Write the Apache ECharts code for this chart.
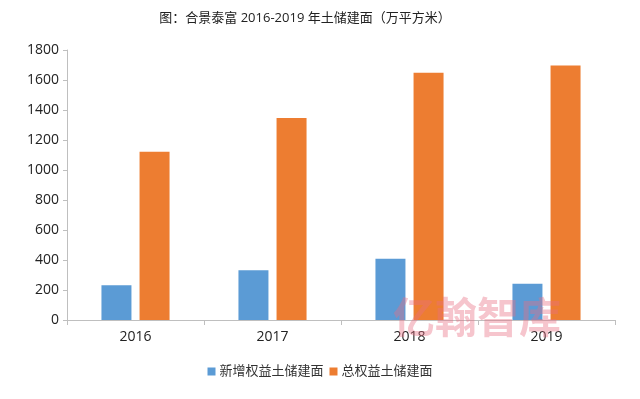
<!DOCTYPE html>
<html>
<head>
<meta charset="utf-8">
<script src="https://cdn.jsdelivr.net/npm/echarts@6/dist/echarts.min.js"></script>
<style>
  html, body { margin: 0; padding: 0; background: #fff; }
  #chart { width: 640px; height: 399px; }
</style>
</head>
<body>
<div id="chart"></div>
<script>
const years = ['2016', '2017', '2018', '2019'];
const newArea = [231, 331, 409, 242];
const totalArea = [1122, 1347, 1649, 1696];
const seriesNames = ['新增权益土储建面', '总权益土储建面'];

const chart = echarts.init(document.getElementById('chart'));
const font = '"Open Sans", "Noto Sans CJK SC", sans-serif';

const option = {
  animation: false,
  title: {
    text: '图：合景泰富 2016-2019 年土储建面（万平方米）',
    left: 300,
    textAlign: 'center',
    top: 7,
    textStyle: { fontSize: 13, fontWeight: 'normal', color: '#222', fontFamily: font }
  },
  legend: {
    bottom: 16,
    left: 'center',
    itemWidth: 8,
    itemHeight: 8,
    itemGap: 6,
    icon: 'rect',
    textStyle: { fontSize: 13, color: '#333', fontFamily: font, padding: [0, 0, 0, -1] },
    data: seriesNames
  },
  grid: { left: 67, right: 25, top: 50, bottom: 79 },
  xAxis: {
    type: 'category',
    data: years,
    axisLine: { lineStyle: { color: '#bfbfbf' } },
    axisTick: { show: true, length: 5, lineStyle: { color: '#bfbfbf' } },
    axisLabel: { fontSize: 14, color: '#222', margin: 10, fontFamily: font }
  },
  yAxis: {
    type: 'value',
    min: 0,
    max: 1800,
    interval: 200,
    axisLine: { show: true, lineStyle: { color: '#bfbfbf' } },
    axisTick: { show: true, length: 4, lineStyle: { color: '#bfbfbf' } },
    axisLabel: {
      fontSize: 14, color: '#222', margin: 8, fontFamily: font,
      formatter: (v) => String(v)
    },
    splitLine: { show: false }
  },
  graphic: [{
    type: 'text',
    left: 393,
    top: 296,
    style: {
      text: '亿翰智库',
      fontSize: 42,
      fontWeight: 'bold',
      fontFamily: '"Noto Sans CJK SC", sans-serif',
      fill: 'rgba(232, 110, 130, 0.4)'
    },
    z: 100
  }],
  series: [
    {
      name: seriesNames[0],
      type: 'bar',
      data: newArea,
      barWidth: 30,
      barGap: '27%',
      itemStyle: { color: '#5b9bd5' }
    },
    {
      name: seriesNames[1],
      type: 'bar',
      data: totalArea,
      barWidth: 30,
      itemStyle: { color: '#ed7d31' }
    }
  ]
};

chart.setOption(option);
</script>
</body>
</html>
